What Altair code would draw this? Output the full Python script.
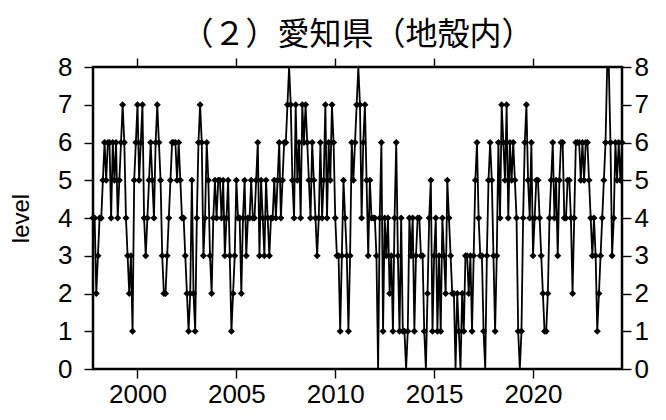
import altair as alt
import pandas as pd

title_text = "（２）愛知県（地殻内）"
start_year = 1997
start_month = 10  # first monthly value: Oct 1997

levels_a = [4, 4, 2, 3, 4, 4, 5, 6, 5, 6, 6, 4, 6, 5, 6, 4, 5, 6, 7, 6,
            4, 3, 2, 3, 1, 5, 6, 7, 5, 6, 7, 4, 3, 4, 5, 6, 5, 4, 6, 7,
            6, 5, 3, 2, 2, 3, 4, 5, 6, 6, 6, 5]
levels_b = [6, 5, 4, 4, 3, 2, 1, 2, 5, 2, 1, 4, 6, 7, 6, 3, 4, 6, 5, 3,
            2, 4, 5, 4, 5, 5, 4, 5, 3, 4, 5, 3, 1, 2, 3, 5, 4, 4, 2, 4,
            5, 3, 4, 4, 5, 4, 4, 5, 6, 3, 5, 4, 3]
levels_c = [5, 4, 3, 4, 4, 5, 4, 5, 6, 4, 5, 6, 6, 7, 8, 7, 5, 4, 7, 5,
            6, 4, 7, 6, 7, 6, 5, 4, 6, 5, 4, 3, 4, 6, 4, 5, 7, 4, 6, 5,
            7, 6, 4, 3, 3, 1, 3, 5, 4, 3, 1, 3, 6]
levels_d = [5, 6, 7, 8, 7, 4, 6, 7, 5, 3, 5, 4, 4, 4, 3, 0, 4, 6, 1, 4,
            3, 4, 2, 3, 1, 4, 6, 3, 1, 4, 1, 1, 0, 1, 4, 3, 4, 1, 3, 4,
            4, 3, 3, 1, 0, 2, 4, 5, 1, 3, 4, 1, 3, 1, 4]
levels_e = [3, 2, 5, 4, 3, 2, 2, 0, 2, 1, 0, 2, 1, 3, 3, 2, 3, 1, 3, 5,
            6, 4, 3, 3, 1, 0, 3, 5, 6, 5, 3, 1, 3, 6, 4, 7, 6, 5, 7, 4,
            6, 5, 6, 5, 4, 1, 0, 1, 4, 6, 7, 5, 4]
levels_f = [6, 3, 4, 5, 5, 4, 3, 2, 1, 1, 2, 4, 5, 6, 4, 5, 3, 5, 6, 6,
            4, 4, 5, 5, 4, 2, 4, 6, 6, 6, 5, 6, 5, 6, 6, 5, 4, 3, 4, 3,
            1, 2, 3, 4, 5, 6, 8, 8, 6, 3, 4, 6, 5, 6, 5, 6]

x_ticks = [2000, 2005, 2010, 2015, 2020]
y_ticks = [0, 1, 2, 3, 4, 5, 6, 7, 8]

levels = levels_a + levels_b + levels_c + levels_d + levels_e + levels_f
t0 = start_year + (start_month - 1) / 12
times = [t0 + i / 12 for i in range(len(levels))]
df = pd.DataFrame({"t": times, "level": levels})

xscale = alt.Scale(domain=[times[0], times[-1]], nice=False, zero=False)
yscale = alt.Scale(domain=[0, 8], nice=False, zero=False)

base = alt.Chart(df)

line = base.mark_line(color="black", strokeWidth=1.8).encode(
    x=alt.X("t:Q", scale=xscale,
            axis=alt.Axis(values=x_ticks, format="d", orient="bottom", title=None,
                          labelPadding=3)),
    y=alt.Y("level:Q", scale=yscale,
            axis=alt.Axis(values=y_ticks, orient="left", title="level",
                          labelPadding=12, titlePadding=24)),
)

points = base.transform_filter("datum.level > 0 && datum.level < 8").mark_point(
    shape="diamond", filled=True, color="black", size=50, opacity=1
).encode(
    x=alt.X("t:Q", scale=xscale,
            axis=alt.Axis(values=x_ticks, orient="top", labels=False, title=None)),
    y=alt.Y("level:Q", scale=yscale,
            axis=alt.Axis(values=y_ticks, orient="right", title=None, labelPadding=3)),
)

chart = (
    alt.layer(line, points)
    .resolve_axis(x="independent", y="independent")
    .properties(
        width=529,
        height=302,
        title=alt.Title(title_text, font="Noto Sans CJK JP", fontSize=32,
                        fontWeight="normal", color="black", anchor="middle",
                        offset=2),
        autosize=alt.AutoSizeParams(type="none"),
        padding={"left": 85, "top": 59, "right": 36, "bottom": 43},
    )
    .configure_view(stroke="black", strokeWidth=2.5)
    .configure_axis(
        domain=False, grid=False, ticks=True, tickColor="black", tickWidth=1.4,
        tickSize=9, labelColor="black", labelFont="Liberation Sans",
        labelFontSize=26,
        titleFont="Liberation Sans", titleFontSize=24, titleFontWeight="normal",
        titleColor="black",
    )
)

chart.save("out.html", embed_options={"renderer": "svg", "actions": False})
